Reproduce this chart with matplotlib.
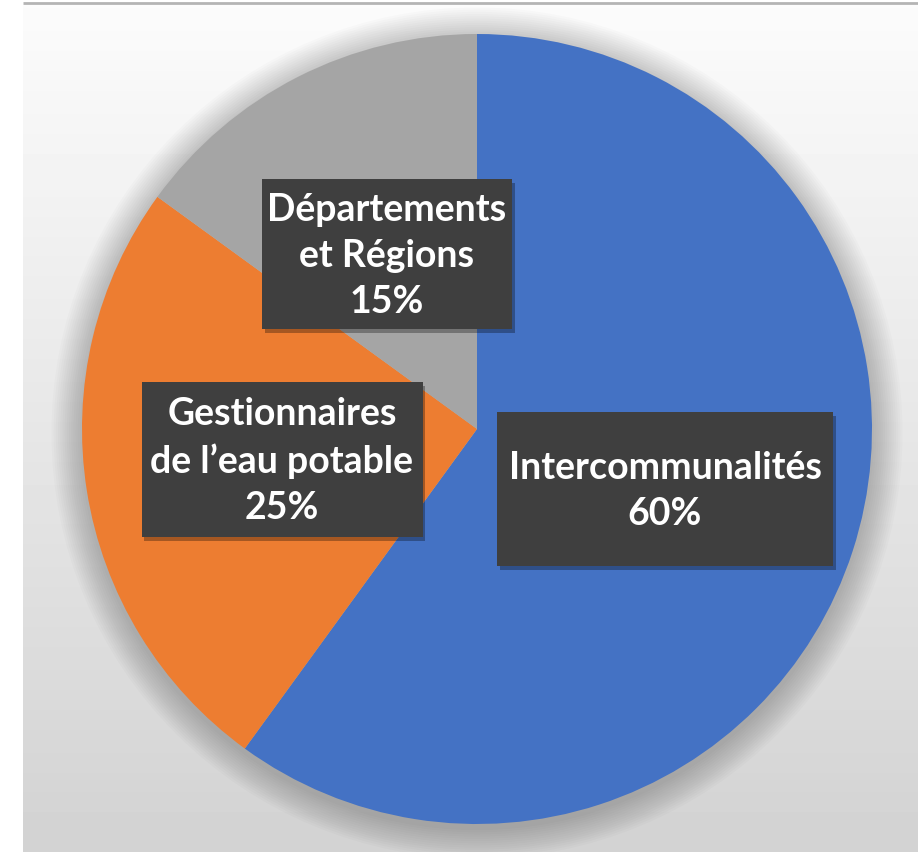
import numpy as np
import matplotlib.pyplot as plt
import matplotlib.patheffects as pe
from matplotlib.patches import Circle, Rectangle

# data
categories = ['Intercommunalités', 'Gestionnaires\nde l\u2019eau potable', 'Départements\net Régions']
shares = [60, 25, 15]
colors = ['#4472C4', '#ED7D31', '#A5A5A5']

# label boxes: centre x, centre y (pixel, y up), width, height
label_box = [(665, 363, 336, 154), (282, 393, 281, 155), (387, 598, 250, 150)]

W, H = 918, 853
fig = plt.figure(figsize=(W / 100, H / 100), dpi=100)
fig.patch.set_facecolor('white')
ax = fig.add_axes([0, 0, 1, 1])

# background gradient
grad = np.linspace(0.985, 0.825, 256).reshape(-1, 1)
ax.imshow(grad, extent=(23, W, 0, H - 6), cmap='gray', vmin=0, vmax=1,
          aspect='auto', zorder=0, origin='upper')
ax.plot([23, W], [H - 4, H - 4], color='#b4b4b4', lw=2, zorder=1,
        solid_capstyle='butt')

cx, cy, r = 477, 423, 395

# soft shadow around the pie
for k in range(14):
    ax.add_patch(Circle((cx, cy - 4), r + 2 + k * 2.2, color='black',
                        alpha=0.015, lw=0, zorder=1))

wedges, _ = ax.pie(shares, colors=colors, startangle=90, counterclock=False,
                   center=(cx, cy), radius=r, frame=True,
                   wedgeprops=dict(linewidth=0, zorder=2))
ax.set_xlim(0, W)
ax.set_ylim(0, H)
ax.set_aspect('auto')
ax.axis('off')

for cat, val, (x, y, bw, bh) in zip(categories, shares, label_box):
    box = Rectangle((x - bw / 2, y - bh / 2), bw, bh, fc='#3f3f3f', ec='none',
                    zorder=4)
    box.set_path_effects([pe.SimplePatchShadow(offset=(2, -3), shadow_rgbFace='black',
                                               alpha=0.3), pe.Normal()])
    ax.add_patch(box)
    ax.text(x, y - 1, '%s\n%d%%' % (cat, val), ha='center', va='center',
            color='white', fontsize=27, fontweight='bold', family='Lato',
            linespacing=1.42, zorder=5)

plt.savefig('out.png', dpi=100)
